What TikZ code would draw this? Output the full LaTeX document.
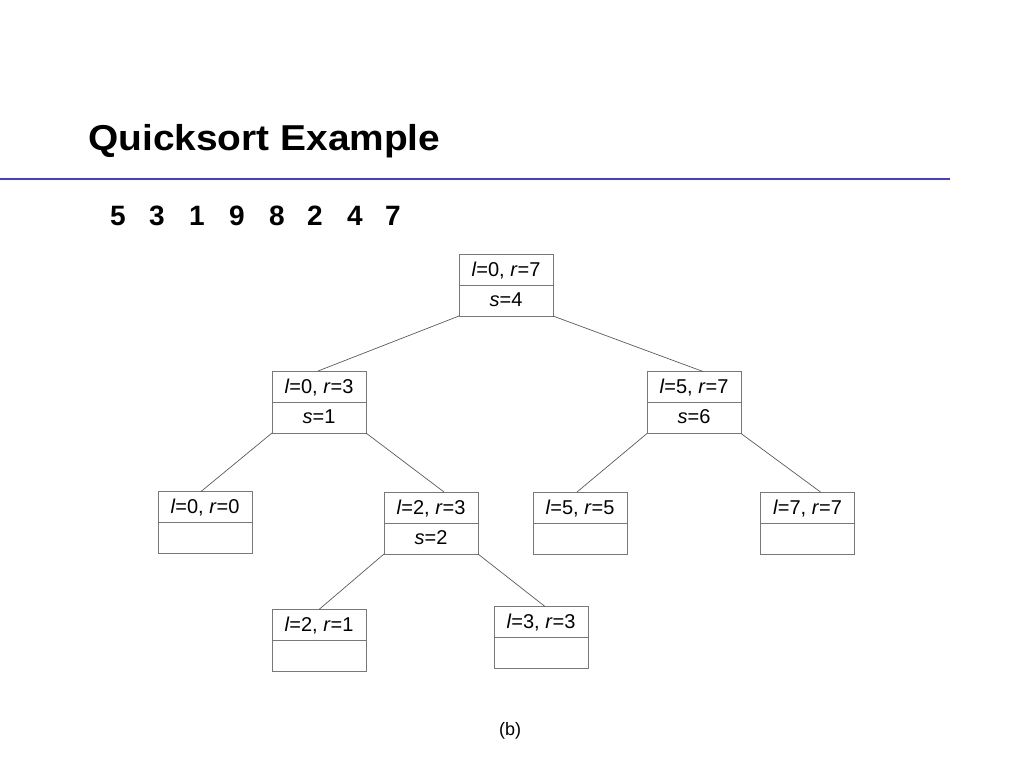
\documentclass[tikz,border=0pt]{standalone}
\usepackage{fontspec}
\setmainfont{Liberation Sans}
\newfontfamily\titlefont[FakeStretch=1.08]{Liberation Sans Bold}
\newfontfamily\digitfont{Liberation Sans Bold}
\usetikzlibrary{calc}
\definecolor{rulecol}{RGB}{64,64,204}
\definecolor{boxcol}{RGB}{120,120,120}
\definecolor{edgecol}{RGB}{90,90,90}
\tikzset{
  qbox/.style={draw=boxcol, line width=0.9pt, minimum width=94pt, minimum height=62pt, inner sep=0pt, outer sep=0pt},
  qtxt/.style={anchor=base, inner sep=0pt, font=\fontsize{20}{22}\selectfont},
  qedge/.style={draw=edgecol, line width=0.7pt},
}
\newcommand{\qlr}[2]{\textit{l}=#1, \textit{r}=#2}
\newcommand{\qs}[1]{\textit{s}=#1}
\newcommand{\qnode}[5]{% name, x, y(center), top text, bottom text
  \node[qbox] (#1) at (#2,#3) {};
  \draw[boxcol, line width=0.9pt] (#1.west) -- (#1.east);
  \node[qtxt] (#1-t) at ($(#1.north)+(0,22)$) {#4};
  \node[qtxt] (#1-b) at ($(#1.center)+(0,21)$) {#5};
}
\begin{document}
\begin{tikzpicture}[x=1pt,y=-1pt]
\useasboundingbox (0,0) rectangle (1024,768);
\node[anchor=base west, inner sep=0pt, font=\fontsize{36}{40}\titlefont] (title) at (88,150) {Quicksort Example};
\draw[rulecol, line width=2pt] (0,179) coordinate (r1) -- (950,179) coordinate (r2);
\foreach \d/\x [count=\i] in {5/118,3/157,1/197,9/237,8/277,2/315,4/355,7/393}
  \node[anchor=base, inner sep=0pt, font=\fontsize{28}{30}\digitfont] (d\i) at (\x,225) {\d};
\qnode{root}{506}{285}{\qlr{0}{7}}{\qs{4}}
\qnode{L}{319}{402}{\qlr{0}{3}}{\qs{1}}
\qnode{R}{694}{402.5}{\qlr{5}{7}}{\qs{6}}
\qnode{LL}{205}{522.5}{\qlr{0}{0}}{}
\qnode{LR}{431}{523}{\qlr{2}{3}}{\qs{2}}
\qnode{RL}{580}{523}{\qlr{5}{5}}{}
\qnode{RR}{807.5}{523}{\qlr{7}{7}}{}
\qnode{LRL}{319}{640.5}{\qlr{2}{1}}{}
\qnode{LRR}{541}{637.5}{\qlr{3}{3}}{}
\draw[qedge] (root.south west) -- ($(L.north)+(-1,0)$);
\draw[qedge] (root.south east) -- ($(R.north)+(9,0)$);
\draw[qedge] (L.south west) -- ($(LL.north)+(-4,0)$);
\draw[qedge] (L.south east) -- ($(LR.north)+(13,0)$);
\draw[qedge] (R.south west) -- ($(RL.north)+(-3,0)$);
\draw[qedge] (R.south east) -- ($(RR.north)+(13,0)$);
\draw[qedge] (LR.south west) -- (LRL.north);
\draw[qedge] (LR.south east) -- ($(LRR.north)+(4,0)$);
\node[anchor=base, inner sep=0pt, font=\fontsize{18}{20}\selectfont] (cap) at (510,735) {(b)};
\end{tikzpicture}
\end{document}
